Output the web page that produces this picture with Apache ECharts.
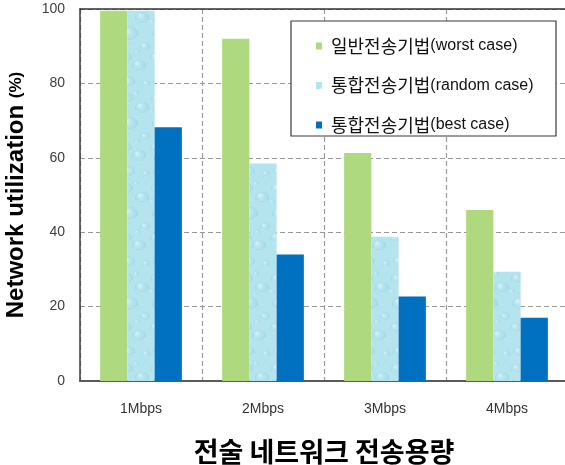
<!DOCTYPE html>
<html>
<head>
<meta charset="utf-8">
<script src="https://cdn.jsdelivr.net/npm/echarts@6/dist/echarts.min.js"></script>
<style>
  html, body { margin: 0; padding: 0; background: #ffffff; }
  #chart { width: 565px; height: 465px; }
</style>
</head>
<body>
<div id="chart"></div>
<script>
// Link capacity categories and utilization (%) for each transmission scheme
const categories = ['1Mbps', '2Mbps', '3Mbps', '4Mbps'];
const seriesNames = ['일반전송기법(worst case)', '통합전송기법(random case)', '통합전송기법(best case)'];
const worstCase = [99.5, 92, 61.3, 46];
const randomCase = [99.5, 58.5, 38.8, 29.4];
const bestCase = [68.2, 34, 22.7, 17];
const yMin = 0;
const yMax = 100;
const yStep = 20;

// Water-drop texture used to fill the "random case" bars
function makeDropTexture() {
  const c = document.createElement('canvas');
  c.width = 30; c.height = 90;
  const g = c.getContext('2d');
  g.fillStyle = '#b4e4ee';
  g.fillRect(0, 0, c.width, c.height);
  const drops = [
    [7, 9, 6], [22, 18, 7], [10, 34, 8], [25, 47, 5], [6, 58, 6],
    [19, 66, 7], [9, 82, 6], [26, 84, 4], [16, 4, 3], [2, 22, 3], [17, 52, 3]
  ];
  drops.forEach(([x, y, r]) => {
    const grad = g.createRadialGradient(x - r * 0.35, y - r * 0.4, r * 0.1, x, y, r);
    grad.addColorStop(0, 'rgba(235,250,253,0.55)');
    grad.addColorStop(0.55, 'rgba(170,222,234,0.25)');
    grad.addColorStop(1, 'rgba(120,192,212,0.35)');
    g.fillStyle = grad;
    g.beginPath(); g.ellipse(x, y, r, r * 0.9, 0, 0, Math.PI * 2); g.fill();
    g.strokeStyle = 'rgba(225,246,250,0.6)';
    g.lineWidth = 0.8;
    g.beginPath(); g.ellipse(x, y, r - 0.6, r * 0.9 - 0.6, 0, Math.PI * 0.1, Math.PI * 0.9); g.stroke();
  });
  return c;
}

const dropTexture = makeDropTexture();
const seriesColors = ['#afd97e', { image: dropTexture, repeat: 'repeat' }, '#0070c0'];
const seriesValues = [worstCase, randomCase, bestCase];

const chart = echarts.init(document.getElementById('chart'), null, { renderer: 'canvas' });

const legendFormatter = (name) => {
  const i = name.indexOf('(');
  return '{k|' + name.slice(0, i) + '}{e|' + name.slice(i) + '}';
};

chart.setOption({
  animation: false,
  backgroundColor: '#ffffff',
  grid: { left: 80, top: 9, width: 488, height: 372, containLabel: false, outerBoundsMode: 'none' },
  graphic: [{
    type: 'rect',
    z: 3,
    shape: { x: 291, y: 21, width: 265, height: 115 },
    style: { fill: '#ffffff', stroke: '#3a3a3a', lineWidth: 1.2 }
  }],
  legend: {
    z: 5,
    orient: 'vertical',
    left: 316,
    top: 37,
    padding: 0,
    itemGap: 21.5,
    itemWidth: 6,
    itemHeight: 7,
    icon: 'rect',
    data: seriesNames,
    formatter: legendFormatter,
    textStyle: {
      rich: {
        k: { fontFamily: 'Noto Sans CJK KR', fontSize: 18, color: '#111', lineHeight: 21, padding: [0, 0, 0, 4] },
        e: { fontFamily: 'Liberation Sans', fontSize: 16, color: '#111', lineHeight: 21 }
      }
    }
  },
  xAxis: [{
    type: 'category',
    data: categories,
    position: 'bottom',
    axisLine: { show: true, lineStyle: { color: '#5a5a5a', width: 2 } },
    axisTick: { show: false },
    axisLabel: { margin: 21, fontFamily: 'Liberation Sans', fontSize: 14, color: '#333' },
    splitLine: { show: true, interval: 0, lineStyle: { color: '#999', type: [5, 3], width: 1.2 } },
    name: '전술 네트워크 전송용량',
    nameLocation: 'middle',
    nameGap: 57,
    nameTextStyle: { fontFamily: 'Noto Sans CJK KR', fontWeight: 'bold', fontSize: 27, color: '#000' }
  }, {
    type: 'category',
    data: categories,
    position: 'top',
    axisLine: { show: true, lineStyle: { color: '#333', width: 1.5 } },
    axisTick: { show: false },
    axisLabel: { show: false },
    splitLine: { show: false }
  }],
  yAxis: {
    type: 'value',
    min: yMin,
    max: yMax,
    interval: yStep,
    axisLine: { show: true, lineStyle: { color: '#3a3a3a', width: 1.5 } },
    axisTick: { show: false },
    axisLabel: { margin: 15, fontFamily: 'Liberation Sans', fontSize: 14, color: '#404040' },
    splitLine: { show: true, lineStyle: { color: '#999', type: [5, 3], width: 1.2 } },
    name: '{a|Network utilization }{b|(%)}',
    nameLocation: 'middle',
    nameGap: 52,
    nameRotate: 90,
    nameTextStyle: {
      rich: {
        a: { fontFamily: 'Liberation Sans', fontWeight: 'bold', fontSize: 24, color: '#000' },
        b: { fontFamily: 'Liberation Sans', fontWeight: 'bold', fontSize: 17, color: '#000' }
      }
    }
  },
  series: seriesNames.map((name, i) => ({
    name: name,
    type: 'bar',
    xAxisIndex: 0,
    data: seriesValues[i],
    barGap: '0%',
    barCategoryGap: '33%',
    itemStyle: { color: seriesColors[i] }
  }))
});
</script>
</body>
</html>
